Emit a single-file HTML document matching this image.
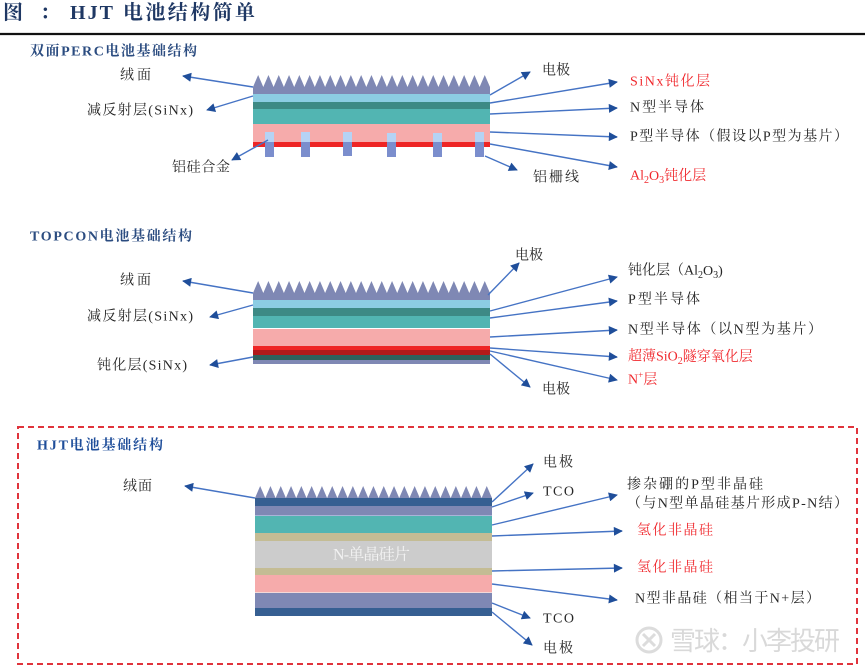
<!DOCTYPE html>
<html><head><meta charset="utf-8"><style>
html,body{margin:0;padding:0;background:#fff;}
svg{display:block;}
.t{font-family:"Liberation Serif","Noto Serif CJK SC",serif;font-size:14px;fill:#262626;dominant-baseline:central;}
.r{fill:#f0282d;}
.h{font-family:"Liberation Serif","Noto Serif CJK SC",serif;font-size:14px;font-weight:bold;fill:#2b4c80;dominant-baseline:central;}
.ln{stroke:#4573c4;stroke-width:1.4;fill:none;marker-end:url(#a);}
</style></head><body>
<svg width="865" height="668" viewBox="0 0 865 668" xmlns="http://www.w3.org/2000/svg">
<defs>
<marker id="a" viewBox="0 0 10 10" refX="9" refY="5" markerWidth="10" markerHeight="9" markerUnits="userSpaceOnUse" orient="auto"><path d="M0,0 L10,5 L0,10 z" fill="#1f4e9a"/></marker>
</defs>
<!-- header -->
<g font-family="'Liberation Serif','Noto Serif CJK SC',serif" font-weight="bold" font-size="20" fill="#1f3864" dominant-baseline="central">
<text x="3" y="13">图</text>
<text x="40" y="13">：</text>
<text x="70" y="13" textLength="43">HJT</text>
<text x="123" y="13" textLength="132">电池结构简单</text>
</g>
<line x1="0" y1="34" x2="865" y2="34" stroke="#111" stroke-width="2.2"/>

<!-- ============ PERC ============ -->
<text class="h" x="30" y="52" textLength="167">双面PERC电池基础结构</text>
<g>
<path id="teethP" fill="#7f88b4" d="M253,87 L258.15,75 L263.3,87 L268.45,75 L273.6,87 L278.75,75 L283.9,87 L289.05,75 L294.2,87 L299.35,75 L304.5,87 L309.65,75 L314.8,87 L319.95,75 L325.1,87 L330.25,75 L335.4,87 L340.55,75 L345.7,87 L350.85,75 L356,87 L361.15,75 L366.3,87 L371.45,75 L376.6,87 L381.75,75 L386.9,87 L392.05,75 L397.2,87 L402.35,75 L407.5,87 L412.65,75 L417.8,87 L422.95,75 L428.1,87 L433.25,75 L438.4,87 L443.55,75 L448.7,87 L453.85,75 L459,87 L464.15,75 L469.3,87 L474.45,75 L479.6,87 L484.75,75 L490,87 Z"/>
<rect x="253" y="87" width="237" height="7" fill="#7f88b4"/>
<rect x="253" y="94" width="237" height="8" fill="#8ccde3"/>
<rect x="253" y="102" width="237" height="7" fill="#3d8a85"/>
<rect x="253" y="109" width="237" height="15" fill="#52b5b2"/>
<rect x="253" y="124" width="237" height="18" fill="#f6abab"/>
<rect x="253" y="142" width="237" height="5" fill="#ee2525"/>
<g fill="#b5d3f5">
<rect x="265" y="132" width="9" height="10"/><rect x="301" y="132" width="9" height="10"/><rect x="343" y="132" width="9" height="10"/><rect x="387" y="133" width="9" height="9"/><rect x="433" y="133" width="9" height="9"/><rect x="475" y="132" width="9" height="10"/>
</g>
<g fill="#7b8ecd">
<rect x="265" y="142" width="9" height="15"/><rect x="301" y="142" width="9" height="15"/><rect x="343" y="142" width="9" height="14"/><rect x="387" y="142" width="9" height="15"/><rect x="433" y="142" width="9" height="15"/><rect x="475" y="142" width="9" height="15"/>
</g>
</g>
<path class="ln" d="M253,87 L183,76"/>
<path class="ln" d="M253,96 L207,110"/>
<path class="ln" d="M268,140 L232,160"/>
<path class="ln" d="M490,95 L530,72"/>
<path class="ln" d="M490,103 L617,82"/>
<path class="ln" d="M490,114 L617,108"/>
<path class="ln" d="M490,132 L617,137"/>
<path class="ln" d="M490,144 L617,167"/>
<path class="ln" d="M485,156 L517,170"/>
<text class="t" x="120" y="76" textLength="31">绒面</text>
<text class="t" x="87" y="111" textLength="106">减反射层(SiNx)</text>
<text class="t" x="172" y="168" textLength="58">铝硅合金</text>
<text class="t" x="542" y="71" textLength="28">电极</text>
<text class="t r" x="630" y="82" textLength="80">SiNx钝化层</text>
<text class="t" x="630" y="108" textLength="74">N型半导体</text>
<text class="t" x="630" y="137" textLength="218">P型半导体（假设以P型为基片）</text>
<text class="t r" x="630" y="176">Al<tspan font-size="10" dy="4">2</tspan><tspan dy="-4">O</tspan><tspan font-size="10" dy="4">3</tspan><tspan dy="-4">钝化层</tspan></text>
<text class="t" x="533" y="178" textLength="46">铝栅线</text>

<!-- ============ TOPCON ============ -->
<text class="h" x="30" y="237" textLength="162">TOPCON电池基础结构</text>
<path fill="#7f88b4" d="M253,293 L258.15,281 L263.3,293 L268.45,281 L273.6,293 L278.75,281 L283.9,293 L289.05,281 L294.2,293 L299.35,281 L304.5,293 L309.65,281 L314.8,293 L319.95,281 L325.1,293 L330.25,281 L335.4,293 L340.55,281 L345.7,293 L350.85,281 L356,293 L361.15,281 L366.3,293 L371.45,281 L376.6,293 L381.75,281 L386.9,293 L392.05,281 L397.2,293 L402.35,281 L407.5,293 L412.65,281 L417.8,293 L422.95,281 L428.1,293 L433.25,281 L438.4,293 L443.55,281 L448.7,293 L453.85,281 L459,293 L464.15,281 L469.3,293 L474.45,281 L479.6,293 L484.75,281 L490,293 Z"/>
<rect x="253" y="293" width="237" height="7" fill="#7f88b4"/>
<rect x="253" y="300" width="237" height="8" fill="#8ccde3"/>
<rect x="253" y="308" width="237" height="8" fill="#3d8a85"/>
<rect x="253" y="316" width="237" height="12" fill="#52b5b2"/>
<rect x="253" y="329" width="237" height="17" fill="#f6abab"/>
<rect x="253" y="346" width="237" height="4" fill="#ee2525"/>
<rect x="253" y="350" width="237" height="5" fill="#b01a1a"/>
<rect x="253" y="355" width="237" height="5" fill="#2e615c"/>
<rect x="253" y="360" width="237" height="4" fill="#7f88b4"/>
<path class="ln" d="M253,293 L183,281"/>
<path class="ln" d="M253,305 L210,317"/>
<path class="ln" d="M253,357 L210,365"/>
<path class="ln" d="M488,295 L519,263"/>
<path class="ln" d="M490,311 L617,277"/>
<path class="ln" d="M490,318 L617,301"/>
<path class="ln" d="M490,337 L617,330"/>
<path class="ln" d="M490,348 L617,357"/>
<path class="ln" d="M490,351 L617,380"/>
<path class="ln" d="M490,354 L530,387"/>
<text class="t" x="120" y="281" textLength="31">绒面</text>
<text class="t" x="87" y="317" textLength="106">减反射层(SiNx)</text>
<text class="t" x="97" y="366" textLength="90">钝化层(SiNx)</text>
<text class="t" x="515" y="256" textLength="28">电极</text>
<text class="t" x="628" y="271">钝化层（Al<tspan font-size="10" dy="4">2</tspan><tspan dy="-4">O</tspan><tspan font-size="10" dy="4">3</tspan><tspan dy="-4">)</tspan></text>
<text class="t" x="628" y="300" textLength="72">P型半导体</text>
<text class="t" x="628" y="330" textLength="194">N型半导体（以N型为基片）</text>
<text class="t r" x="628" y="357">超薄SiO<tspan font-size="10" dy="4">2</tspan><tspan dy="-4">隧穿氧化层</tspan></text>
<text class="t r" x="628" y="380">N<tspan font-size="9" dy="-5">+</tspan><tspan dy="5">层</tspan></text>
<text class="t" x="542" y="390" textLength="28">电极</text>

<!-- ============ HJT ============ -->
<rect x="18" y="427" width="839" height="237" fill="none" stroke="#e0343c" stroke-width="2" stroke-dasharray="6,4"/>
<text class="h" x="37" y="446" textLength="126" fill="#1f4e9a" style="fill:#1f4e9a">HJT电池基础结构</text>
<path fill="#7f88b4" d="M255,498 L260.15,486 L265.3,498 L270.45,486 L275.6,498 L280.75,486 L285.9,498 L291.05,486 L296.2,498 L301.35,486 L306.5,498 L311.65,486 L316.8,498 L321.95,486 L327.1,498 L332.25,486 L337.4,498 L342.55,486 L347.7,498 L352.85,486 L358,498 L363.15,486 L368.3,498 L373.45,486 L378.6,498 L383.75,486 L388.9,498 L394.05,486 L399.2,498 L404.35,486 L409.5,498 L414.65,486 L419.8,498 L424.95,486 L430.1,498 L435.25,486 L440.4,498 L445.55,486 L450.7,498 L455.85,486 L461,498 L466.15,486 L471.3,498 L476.45,486 L481.6,498 L486.75,486 L492,498 Z"/>
<rect x="255" y="498" width="237" height="8" fill="#365f92"/>
<rect x="255" y="506" width="237" height="9" fill="#7f88b4"/>
<rect x="255" y="515" width="237" height="1" fill="#a9b4d8"/>
<rect x="255" y="516" width="237" height="17" fill="#52b5b2"/>
<rect x="255" y="533" width="237" height="8" fill="#c4bc94"/>
<rect x="255" y="541" width="237" height="27" fill="#cccccc"/>
<rect x="255" y="568" width="237" height="7" fill="#c4bc94"/>
<rect x="255" y="575" width="237" height="17" fill="#f6abab"/>
<rect x="255" y="592" width="237" height="1" fill="#f4d8d8"/>
<rect x="255" y="593" width="237" height="15" fill="#7f88b4"/>
<rect x="255" y="608" width="237" height="8" fill="#365f92"/>
<text x="333" y="555" font-family="'Liberation Serif','Noto Serif CJK SC',serif" font-size="16" fill="#f2f2f2" dominant-baseline="central" textLength="77">N-单晶硅片</text>
<path class="ln" d="M255,498 L185,486"/>
<path class="ln" d="M492,502 L533,464"/>
<path class="ln" d="M492,507 L533,493"/>
<path class="ln" d="M492,525 L617,495"/>
<path class="ln" d="M492,536 L622,531"/>
<path class="ln" d="M492,571 L622,568"/>
<path class="ln" d="M492,584 L617,600"/>
<path class="ln" d="M492,603 L530,618"/>
<path class="ln" d="M492,612 L532,645"/>
<text class="t" x="123" y="487" textLength="29">绒面</text>
<text class="t" x="543" y="463" textLength="30">电极</text>
<text class="t" x="543" y="492" textLength="31">TCO</text>
<text class="t" x="627" y="485" textLength="136">掺杂硼的P型非晶硅</text>
<text class="t" x="627" y="504" textLength="221">（与N型单晶硅基片形成P-N结）</text>
<text class="t r" x="637" y="531" textLength="76">氢化非晶硅</text>
<text class="t r" x="637" y="568" textLength="76">氢化非晶硅</text>
<text class="t" x="635" y="599" textLength="185">N型非晶硅（相当于N+层）</text>
<text class="t" x="543" y="619" textLength="31">TCO</text>
<text class="t" x="543" y="649" textLength="30">电极</text>

<!-- watermark -->
<circle cx="649" cy="640" r="12" fill="none" stroke="#dcdcdc" stroke-width="3"/>
<path d="M643,634 L655,646 M655,634 L643,646" stroke="#dcdcdc" stroke-width="3"/>
<text x="670" y="641" font-family="'Liberation Sans','Noto Sans CJK SC',sans-serif" font-size="26" fill="#d9d9d9" dominant-baseline="central" textLength="170">雪球：小李投研</text>
</svg>
</body></html>
